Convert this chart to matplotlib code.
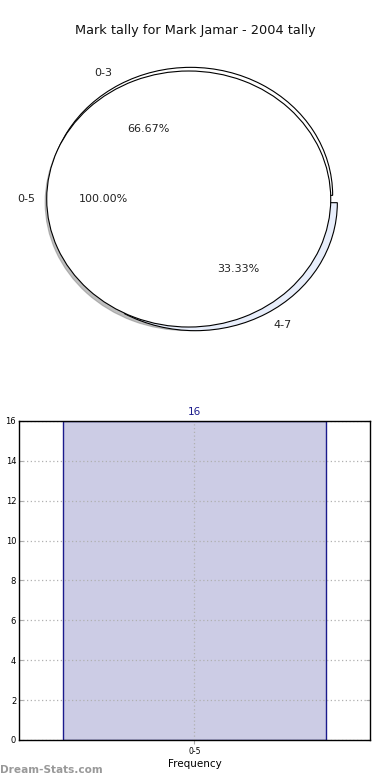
import matplotlib
matplotlib.use("Agg")
import matplotlib.pyplot as plt

# ---- data ----
title = "Mark tally for Mark Jamar - 2004 tally"
outer_labels = ["0-3", "4-7"]
outer_values = [66.67, 33.33]
outer_colors = ["#ffffff", "#e8eefb"]
inner_labels = ["0-5"]
inner_values = [100.0]
inner_colors = ["#ffffff"]

bar_categories = ["0-5"]
bar_values = [16]
y_ticks = [0, 2, 4, 6, 8, 10, 12, 14, 16]
x_label = "Frequency"
y_label = "Mark Tally"
watermark = "Dream-Stats.com"

fig = plt.figure(figsize=(3.9, 7.8), dpi=100)

# ---- pie ----
ax1 = fig.add_axes([0.0215, 0.5315, 0.9467, 0.4267])
wp = dict(edgecolor="black", linewidth=0.8)
ax1.pie(outer_values, labels=outer_labels, colors=outer_colors,
        explode=[0.033, 0.033], radius=1.0, startangle=0,
        autopct="%.2f%%", pctdistance=0.6, labeldistance=1.1,
        wedgeprops=wp, textprops=dict(fontsize=8, color="#222222"))
ax1.pie(inner_values, labels=inner_labels, colors=inner_colors,
        explode=[0.03], radius=1.0, startangle=0,
        shadow=dict(ox=-0.008, oy=-0.02, shade=0.5, alpha=0.5),
        autopct="%.2f%%", pctdistance=0.6, labeldistance=1.08,
        wedgeprops=wp, textprops=dict(fontsize=8, color="#222222"))
ax1.set_aspect("auto")
ax1.set_xlim(-1.3, 1.3)
ax1.set_ylim(-1.3, 1.3)
ax1.axis("off")
fig.text(0.5, 0.961, title, ha="center", va="center", fontsize=9.3, color="#111111")

# ---- bar ----
ax2 = fig.add_axes([0.0487, 0.0513, 0.9, 0.409])
xs = list(range(len(bar_categories)))
ax2.bar(xs, bar_values, width=1.0, color="#ccccE5", edgecolor="#1a1a8c",
        linewidth=1.0, zorder=2)
ax2.set_xlim(-0.665, 0.665)
ax2.set_ylim(0, 16)
ax2.set_yticks(y_ticks)
ax2.set_yticklabels([str(t) for t in y_ticks], fontsize=6)
ax2.set_xticks(xs)
ax2.set_xticklabels(bar_categories, fontsize=5.5)
ax2.tick_params(axis="both", length=3, color="#aaaaaa", pad=2)
ax2.tick_params(axis="y", right=True, direction="in")
ax2.grid(True, linestyle=(0, (1, 2)), color="#b0b0b0", linewidth=0.9, zorder=3)
ax2.set_axisbelow(False)
for s in ax2.spines.values():
    s.set_linewidth(1.0)
    s.set_color("black")
    s.set_zorder(4)
ax2.set_xlabel(x_label, fontsize=7.5, labelpad=2)
ax2.set_ylabel(y_label, fontsize=7.5, labelpad=4)
for x, v in zip(xs, bar_values):
    ax2.text(x, v + 0.2, str(v), ha="center", va="bottom", fontsize=7.5, color="#1a1a8c")

fig.text(0.0, 0.0128, watermark, ha="left", va="center", fontsize=7.6, color="#999999",
         fontweight="bold")

fig.savefig("out.png", dpi=100)
